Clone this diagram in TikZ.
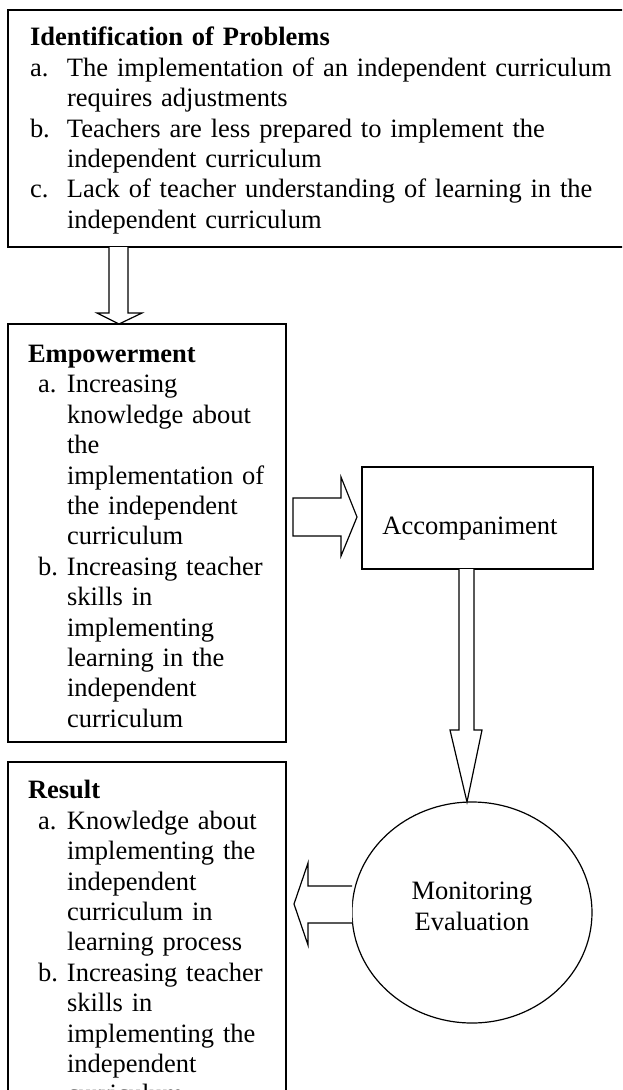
\documentclass[tikz,border=0pt]{standalone}
\usepackage{fontspec}
\setmainfont{Liberation Serif}
\usetikzlibrary{shapes.geometric}
\newcommand{\itm}[3]{\hspace*{#1}\makebox[#2][l]{#3}}
\begin{document}
\begin{tikzpicture}[x=1pt,y=-1pt,
  box/.style={draw, line width=1.2pt, inner sep=0pt, outer sep=0pt, rectangle},
  oval/.style={draw, line width=1.2pt, inner sep=0pt, outer sep=0pt, ellipse},
  txt/.style={anchor=north west, inner sep=0pt, outer sep=0pt, align=left, text width=#1,
              font=\fontsize{26.5}{30.4}\selectfont},
  ctxt/.style={inner sep=0pt, outer sep=0pt, align=center, text width=220pt,
              font=\fontsize{26.5}{30.4}\selectfont},
  blk/.style={draw, line width=1.2pt, fill=white, line join=miter}]
\useasboundingbox (0,0) rectangle (622,1090);
\begin{scope}
\clip (0,0) rectangle (622,1090);
% boxes
\node[box, minimum width=632pt, minimum height=237pt] (prob) at (324,128.5) {};
\node[box, minimum width=278pt, minimum height=418pt] (emp) at (147,533) {};
\node[box, minimum width=278pt, minimum height=368pt] (res) at (147,946) {};
\node[box, minimum width=231pt, minimum height=102pt] (acc) at (477.5,518) {};
\node[oval, minimum width=240pt, minimum height=221pt] (mon) at (472,912.5) {};
% texts
\node[txt=590pt] (probtxt) at (30,24.7) {\strut\textbf{Identification of Problems}\\
\itm{0pt}{37pt}{a.}The implementation of an independent curriculum\\
\itm{37pt}{0pt}{}requires adjustments\\
\itm{0pt}{37pt}{b.}Teachers are less prepared to implement the\\
\itm{37pt}{0pt}{}independent curriculum\\
\itm{0pt}{37pt}{c.}Lack of teacher understanding of learning in the\\
\itm{37pt}{0pt}{}independent curriculum};
\node[txt=255pt] (emptxt) at (28,341.2) {\strut\textbf{Empowerment}\\
\itm{10pt}{29pt}{a.}Increasing\\
\itm{39pt}{0pt}{}knowledge about\\
\itm{39pt}{0pt}{}the\\
\itm{39pt}{0pt}{}implementation of\\
\itm{39pt}{0pt}{}the independent\\
\itm{39pt}{0pt}{}curriculum\\
\itm{10pt}{29pt}{b.}Increasing teacher\\
\itm{39pt}{0pt}{}skills in\\
\itm{39pt}{0pt}{}implementing\\
\itm{39pt}{0pt}{}learning in the\\
\itm{39pt}{0pt}{}independent\\
\itm{39pt}{0pt}{}curriculum};
\node[txt=255pt] (restxt) at (28,777.7) {\strut\textbf{Result}\\
\itm{10pt}{29pt}{a.}Knowledge about\\
\itm{39pt}{0pt}{}implementing the\\
\itm{39pt}{0pt}{}independent\\
\itm{39pt}{0pt}{}curriculum in\\
\itm{39pt}{0pt}{}learning process\\
\itm{10pt}{29pt}{b.}Increasing teacher\\
\itm{39pt}{0pt}{}skills in\\
\itm{39pt}{0pt}{}implementing the\\
\itm{39pt}{0pt}{}independent\\
\itm{39pt}{0pt}{}curriculum};
\node[ctxt, anchor=base] (acctxt) at (470,534) {Accompaniment};
\node[ctxt, anchor=north] (montxt) at (472,878.7) {\strut Monitoring\\Evaluation};
% block arrows
\draw[blk] (109,0 |- prob.south) -- (109,313) -- (97,313) -- (119,0 |- emp.north)
  -- (142,313) -- (128,313) -- (128,0 |- prob.south);
\draw[blk] (293,498) -- (341,498) -- (341,477) -- (357,517) -- (341,556)
  -- (341,536) -- (293,536) -- cycle;
\draw[blk] (459,0 |- acc.south) -- (459,730) -- (450,730) -- (467,0 |- mon.north)
  -- (482,730) -- (474,730) -- (474,0 |- acc.south);
\draw[blk] (mon.west |- 0,886) -- (308,886) -- (308,863) -- (294,904) -- (308,945)
  -- (308,923) -- (mon.west |- 0,923);
\end{scope}
\end{tikzpicture}
\end{document}
